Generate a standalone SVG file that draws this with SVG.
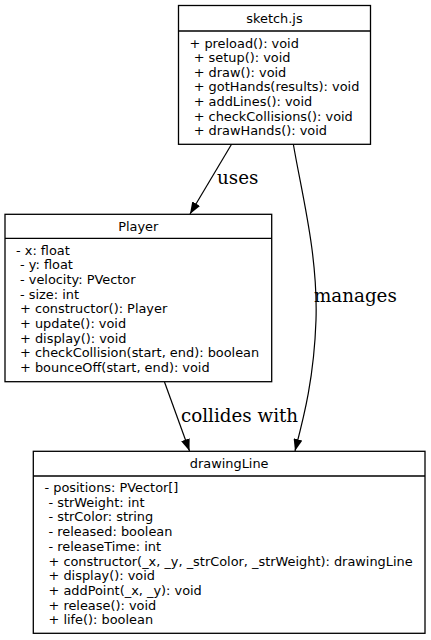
<svg xmlns="http://www.w3.org/2000/svg" width="431" height="640" viewBox="0 0 431 640">
<style>
.box{fill:#fff;stroke:#000;stroke-width:1.3}
.div{stroke:#000;stroke-width:1.3}
.t{font-family:"DejaVu Sans","Noto Sans",sans-serif;font-size:12.9px;fill:#000}
.h{text-anchor:middle}
.e{fill:none;stroke:#000;stroke-width:1.2}
.lbl{font-family:"DejaVu Serif","Liberation Serif",serif;font-size:18.3px;fill:#000}
</style>
<defs>
<marker id="arr" viewBox="0 0 12 9" refX="12" refY="4.5" markerWidth="12" markerHeight="9" markerUnits="userSpaceOnUse" orient="auto">
<path d="M0,0 L12,4.5 L0,9 z" fill="#000"/>
</marker>
</defs>
<rect width="431" height="640" fill="#fff"/>
<g id="connectors">
<path class="e" d="M231.7,144 L190,214" marker-end="url(#arr)"/>
<text class="lbl" x="217" y="184">uses</text>
<path class="e" d="M293.3,144 C302,195 318,255 316,320 C314,380 303,420 295,451" marker-end="url(#arr)"/>
<text class="lbl" x="314" y="302">manages</text>
<path class="e" d="M164.5,382 L189.5,451" marker-end="url(#arr)"/>
<text class="lbl" x="181" y="422">collides with</text>
</g>
<g id="sketch">
<rect class="box" x="178.5" y="5.5" width="192" height="138.8"/>
<line class="div" x1="178.5" y1="31" x2="370.5" y2="31"/>
<text class="t h" x="274.5" y="23">sketch.js</text>
<text class="t" x="189.5" y="47.5">+ preload(): void</text>
<text class="t" x="193.7" y="62.1">+ setup(): void</text>
<text class="t" x="193.7" y="76.7">+ draw(): void</text>
<text class="t" x="193.7" y="91.3">+ gotHands(results): void</text>
<text class="t" x="193.7" y="105.9">+ addLines(): void</text>
<text class="t" x="193.7" y="120.5">+ checkCollisions(): void</text>
<text class="t" x="193.7" y="135.1">+ drawHands(): void</text>
</g>
<g id="player">
<rect class="box" x="5" y="214.3" width="266.7" height="167.4"/>
<line class="div" x1="5" y1="238.3" x2="271.7" y2="238.3"/>
<text class="t h" x="138.3" y="231">Player</text>
<text class="t" x="16" y="254.5">- x: float</text>
<text class="t" x="20" y="269.2">- y: float</text>
<text class="t" x="20" y="283.9">- velocity: PVector</text>
<text class="t" x="20" y="298.6">- size: int</text>
<text class="t" x="20" y="313.3">+ constructor(): Player</text>
<text class="t" x="20" y="328">+ update(): void</text>
<text class="t" x="20" y="342.7">+ display(): void</text>
<text class="t" x="20" y="357.4">+ checkCollision(start, end): boolean</text>
<text class="t" x="20" y="372.1">+ bounceOff(start, end): void</text>
</g>
<g id="drawingLine">
<rect class="box" x="33.3" y="451.3" width="391.7" height="182"/>
<line class="div" x1="33.3" y1="476" x2="425" y2="476"/>
<text class="t h" x="229.2" y="468">drawingLine</text>
<text class="t" x="44.5" y="492">- positions: PVector[]</text>
<text class="t" x="48.5" y="506.7">- strWeight: int</text>
<text class="t" x="48.5" y="521.4">- strColor: string</text>
<text class="t" x="48.5" y="536.1">- released: boolean</text>
<text class="t" x="48.5" y="550.8">- releaseTime: int</text>
<text class="t" x="48.5" y="565.5">+ constructor(_x, _y, _strColor, _strWeight): drawingLine</text>
<text class="t" x="48.5" y="580.2">+ display(): void</text>
<text class="t" x="48.5" y="594.9">+ addPoint(_x, _y): void</text>
<text class="t" x="48.5" y="609.6">+ release(): void</text>
<text class="t" x="48.5" y="624.3">+ life(): boolean</text>
</g>
</svg>
